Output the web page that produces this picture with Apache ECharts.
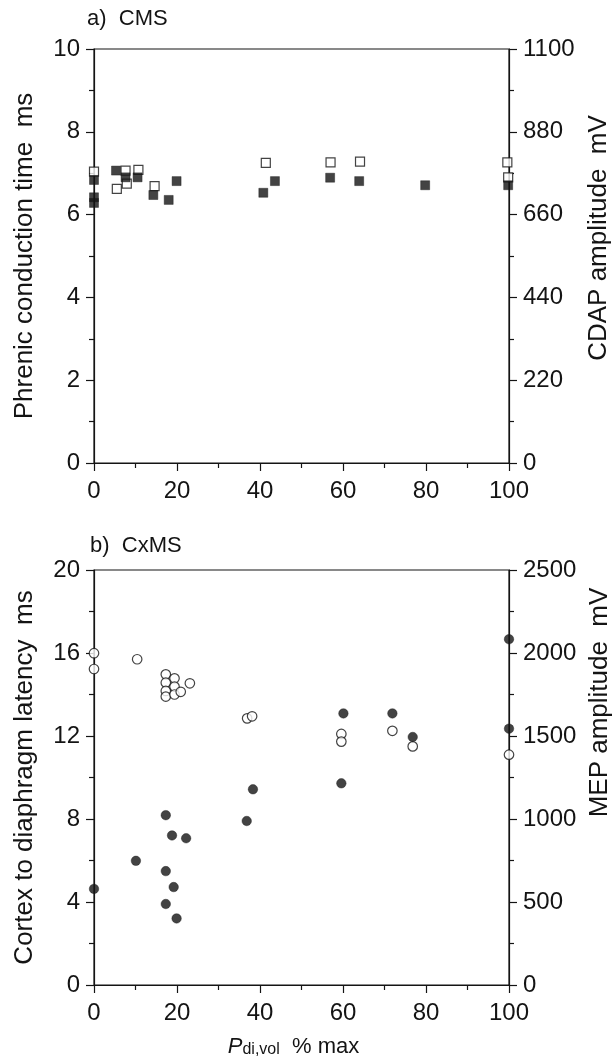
<!DOCTYPE html>
<html>
<head>
<meta charset="utf-8">
<script src="https://cdn.jsdelivr.net/npm/echarts@6/dist/echarts.min.js"></script>
<style>html,body{margin:0;padding:0;background:#fff}#c{width:615px;height:1059px}</style>
</head>
<body>
<div id="c"></div>
<script>
// Panel a) CMS : x = Pdi,vol % max
var cmsOpenX = [0, 5.5, 7.6, 7.9, 10.7, 14.6, 41.4, 57, 64.1, 99.6, 99.8];
var cmsOpenMs = [7.04, 6.62, 7.06, 6.75, 7.08, 6.69, 7.25, 7.26, 7.28, 7.26, 6.9];
var cmsFilledX = [0, 0, 0, 5.3, 7.6, 10.5, 14.3, 18, 19.9, 40.8, 43.6, 56.9, 63.9, 79.8, 99.8];
var cmsFilledMv = [752, 706, 691, 777, 759, 759, 712, 699, 749, 718, 749, 758, 749, 738, 738];
// Panel b) CxMS
var cxOpenX = [0, 0, 10.4, 17.3, 17.3, 17.3, 17.3, 19.4, 19.4, 19.4, 20.9, 23.1, 36.9, 38.1, 59.6, 59.6, 71.9, 76.8, 100];
var cxOpenMs = [15.99, 15.23, 15.7, 14.97, 14.57, 14.17, 13.9, 14.78, 14.38, 14.0, 14.13, 14.54, 12.85, 12.95, 12.1, 11.73, 12.25, 11.5, 11.1];
var cxFilledX = [0, 10.1, 17.3, 18.8, 22.2, 17.3, 19.2, 17.3, 19.9, 36.8, 38.3, 59.6, 60.1, 71.9, 76.8, 100, 100];
var cxFilledMv = [579, 748, 1023, 901, 884, 686, 590, 488, 401, 988, 1179, 1215, 1636, 1636, 1494, 2083, 1544];

function zip(a, b) { return a.map(function (v, i) { return [v, b[i]]; }); }

var FONT = "'Liberation Sans',Arial,sans-serif";
var black = '#141414';
function plain(v) { return String(v); }

function xAx(grid, showName) {
  var o = {
    type: 'value', gridIndex: grid, min: 0, max: 100, interval: 20,
    axisLine: { show: true, onZero: false, lineStyle: { color: black, width: 1.2 } },
    axisTick: { show: true, inside: false, length: 8, lineStyle: { color: black, width: 1.2 } },
    minorTick: { show: true, splitNumber: 2, length: 5, lineStyle: { color: black, width: 1.2 } },
    splitLine: { show: false },
    axisLabel: { color: black, fontSize: 24, fontFamily: FONT, margin: 16, formatter: plain }
  };
  if (showName) {
    o.name = '{i|P}{s|di,vol}{n|  % max}';
    o.nameLocation = 'middle';
    o.nameGap = 50;
    o.nameTextStyle = {
      padding: [0, 16, 0, 0],
      rich: {
        i: { fontSize: 22, fontStyle: 'italic', fontFamily: FONT, color: black },
        s: { fontSize: 16, fontFamily: FONT, color: black, padding: [7, 0, 0, 0] },
        n: { fontSize: 22, fontFamily: FONT, color: black }
      }
    };
  }
  return o;
}

function yAx(grid, pos, min, max, interval, name, gap, pad) {
  return {
    type: 'value', gridIndex: grid, position: pos, min: min, max: max, interval: interval,
    name: name, nameLocation: 'middle', nameRotate: 90, nameGap: gap,
    nameTextStyle: { color: black, fontSize: 26, fontFamily: FONT, padding: pad },
    axisLine: { show: true, onZero: false, lineStyle: { color: black, width: 1.2 } },
    axisTick: { show: true, inside: false, length: 8, lineStyle: { color: black, width: 1.2 } },
    minorTick: { show: true, splitNumber: 2, length: 5, lineStyle: { color: black, width: 1.2 } },
    splitLine: { show: false },
    axisLabel: { color: black, fontSize: 24, fontFamily: FONT, margin: 14, formatter: plain }
  };
}

var openStyle = { color: '#fff', borderColor: black, borderWidth: 1.2 };
var filledStyle = { color: black, borderColor: black, borderWidth: 0.5 };

var chart = echarts.init(document.getElementById('c'), null, { renderer: 'canvas' });
chart.setOption({
  animation: false,
  backgroundColor: '#fff',
  title: [
    { text: 'a)  CMS', left: 82, top: 3, textStyle: { fontSize: 22, fontWeight: 'normal', color: black, fontFamily: FONT } },
    { text: 'b)  CxMS', left: 85, top: 530, textStyle: { fontSize: 22, fontWeight: 'normal', color: black, fontFamily: FONT } }
  ],
  grid: [
    { left: 94, right: 106, top: 49, height: 414, show: true, borderColor: black, borderWidth: 1.2, backgroundColor: 'transparent', outerBoundsMode: 'none', containLabel: false },
    { left: 94, right: 106, top: 570, height: 415, show: true, borderColor: black, borderWidth: 1.2, backgroundColor: 'transparent', outerBoundsMode: 'none', containLabel: false }
  ],
  xAxis: [xAx(0, false), xAx(1, true)],
  yAxis: [
    yAx(0, 'left', 0, 10, 2, 'Phrenic conduction time  ms', 56, 0),
    yAx(0, 'right', 0, 1100, 220, 'CDAP amplitude  mV', 70, [0, 0, 0, 36]),
    yAx(1, 'left', 0, 20, 4, 'Cortex to diaphragm latency  ms', 56, 0),
    yAx(1, 'right', 0, 2500, 500, 'MEP amplitude  mV', 70, [0, 0, 0, 150])
  ],
  series: [
    { type: 'scatter', xAxisIndex: 0, yAxisIndex: 0, symbol: 'rect', symbolSize: 9, itemStyle: openStyle, data: zip(cmsOpenX, cmsOpenMs) },
    { type: 'scatter', xAxisIndex: 0, yAxisIndex: 1, symbol: 'rect', symbolSize: 9, itemStyle: filledStyle, data: zip(cmsFilledX, cmsFilledMv) },
    { type: 'scatter', xAxisIndex: 1, yAxisIndex: 2, symbol: 'circle', symbolSize: 9.5, itemStyle: openStyle, data: zip(cxOpenX, cxOpenMs) },
    { type: 'scatter', xAxisIndex: 1, yAxisIndex: 3, symbol: 'circle', symbolSize: 9.5, itemStyle: filledStyle, data: zip(cxFilledX, cxFilledMv) }
  ]
});
</script>
</body>
</html>
